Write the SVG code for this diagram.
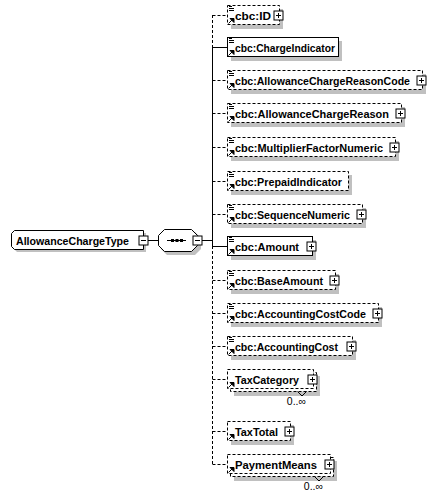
<svg xmlns="http://www.w3.org/2000/svg" width="438" height="498" viewBox="0 0 438 498">
<style>
.bg{fill:#fff}
.sh{fill:#c0c0c0;stroke:none}
.box{fill:#fff;stroke:#000;stroke-width:1}
.opt{fill:#fff;stroke:#000;stroke-width:1;stroke-dasharray:3,2}
.ln{stroke:#000;stroke-width:1;fill:none}
.dl{stroke:#000;stroke-width:1;fill:none;stroke-dasharray:3,2}
.t{font-family:"Liberation Sans",Arial,sans-serif;font-weight:bold;font-size:11.6px;fill:#000}
.card{font-family:"Liberation Sans",Arial,sans-serif;font-size:10.5px;fill:#000}
.btn{fill:#fff;stroke:#000;stroke-width:1}
.ic{stroke:#000;stroke-width:1;fill:none}
.ar{fill:#000;stroke:#000;stroke-width:1}
</style>
<defs>
<g id="plus"><rect class="btn" x="-4.5" y="-4.5" width="9" height="9"/><path class="ln" d="M-2.5,0H2.5M0,-2.5V2.5"/></g>
<g id="minus"><rect class="btn" x="-4.5" y="-4.5" width="9" height="9"/><path class="ln" d="M-2.5,0H2.5"/></g>
<g id="lines"><path class="ic" d="M229,1.5H232M229,3.5H234M229,5.5H234"/></g>
<g id="arrow"><path class="ar" d="M228.5,-1.5L232,-5"/><polygon class="ar" points="230,-6.5 234,-6.5 234,-2.5"/></g>
</defs>
<rect class="bg" x="0" y="0" width="438" height="498"/>

<g id="connectors">
<path class="ln" d="M148,240.5H158M202,240.5H212.5"/>
<path class="dl" d="M212.5,15V47"/>
<path class="ln" d="M212.5,47V246"/>
<path class="dl" d="M212.5,246V464"/>
<path class="dl" d="M212.5,15.5H227"/>
<path class="ln" d="M212.5,47.5H227"/>
<path class="dl" d="M212.5,80.5H227"/>
<path class="dl" d="M212.5,113.5H227"/>
<path class="dl" d="M212.5,147.5H227"/>
<path class="dl" d="M212.5,181.5H227"/>
<path class="dl" d="M212.5,214.5H227"/>
<path class="ln" d="M212.5,246.5H227"/>
<path class="dl" d="M212.5,280.5H227"/>
<path class="dl" d="M212.5,313.5H227"/>
<path class="dl" d="M212.5,346.5H227"/>
<path class="dl" d="M212.5,379.5H227"/>
<path class="dl" d="M212.5,431.5H227"/>
<path class="dl" d="M212.5,464.5H227"/>
</g>

<g id="AllowanceChargeType">
<path class="sh" d="M17,233H146V252H17L14,249V236Z"/>
<path class="box" d="M14.5,230.5H143.5V249.5H14.5L11.5,246.5V233.5Z"/>
<text class="t" x="16" y="244.5" textLength="113" lengthAdjust="spacingAndGlyphs">AllowanceChargeType</text>
<use href="#minus" x="143.5" y="240.5"/>
</g>

<g id="sequence">
<path class="sh" d="M167,232H195L201,238V249L195,255H167L161,249V238Z"/>
<path class="box" d="M164.5,229.5H191.5L197.5,235.5V245.5L191.5,251.5H164.5L158.5,245.5V235.5Z"/>
<path class="ln" d="M167,240.5H186"/>
<rect x="171" y="239" width="3" height="3" fill="#000"/>
<rect x="175.5" y="239" width="3" height="3" fill="#000"/>
<rect x="180" y="239" width="3" height="3" fill="#000"/>
<use href="#minus" x="197.5" y="240.5"/>
</g>

<g id="cbc-ID">
<rect class="sh" x="231" y="9" width="52" height="20"/>
<rect class="opt" x="227.5" y="5.5" width="52" height="19"/>
<use href="#lines" y="5"/><use href="#arrow" y="25"/>
<text class="t" x="235" y="19.5" textLength="36" lengthAdjust="spacingAndGlyphs">cbc:ID</text>
<use href="#plus" x="278.5" y="15.5"/>
</g>

<g id="cbc-ChargeIndicator">
<rect class="sh" x="231" y="41" width="111" height="20"/>
<rect class="box" x="227.5" y="37.5" width="111" height="19"/>
<use href="#lines" y="37"/><use href="#arrow" y="57"/>
<text class="t" x="235" y="51.5" textLength="100" lengthAdjust="spacingAndGlyphs">cbc:ChargeIndicator</text>
</g>

<g id="cbc-AllowanceChargeReasonCode">
<rect class="sh" x="231" y="74" width="195" height="20"/>
<rect class="opt" x="227.5" y="70.5" width="195" height="19"/>
<use href="#lines" y="70"/><use href="#arrow" y="90"/>
<text class="t" x="235" y="84.5" textLength="175" lengthAdjust="spacingAndGlyphs">cbc:AllowanceChargeReasonCode</text>
<use href="#plus" x="421.5" y="80.5"/>
</g>

<g id="cbc-AllowanceChargeReason">
<rect class="sh" x="231" y="107" width="174" height="20"/>
<rect class="opt" x="227.5" y="103.5" width="174" height="19"/>
<use href="#lines" y="103"/><use href="#arrow" y="123"/>
<text class="t" x="235" y="117.5" textLength="154" lengthAdjust="spacingAndGlyphs">cbc:AllowanceChargeReason</text>
<use href="#plus" x="400.5" y="113.5"/>
</g>

<g id="cbc-MultiplierFactorNumeric">
<rect class="sh" x="231" y="141" width="168" height="20"/>
<rect class="opt" x="227.5" y="137.5" width="168" height="19"/>
<use href="#lines" y="137"/><use href="#arrow" y="157"/>
<text class="t" x="235" y="151.5" textLength="148" lengthAdjust="spacingAndGlyphs">cbc:MultiplierFactorNumeric</text>
<use href="#plus" x="394.5" y="147.5"/>
</g>

<g id="cbc-PrepaidIndicator">
<rect class="sh" x="231" y="175" width="121" height="20"/>
<rect class="opt" x="227.5" y="171.5" width="121" height="19"/>
<use href="#lines" y="171"/><use href="#arrow" y="191"/>
<text class="t" x="235" y="185.5" textLength="107" lengthAdjust="spacingAndGlyphs">cbc:PrepaidIndicator</text>
</g>

<g id="cbc-SequenceNumeric">
<rect class="sh" x="231" y="208" width="135" height="20"/>
<rect class="opt" x="227.5" y="204.5" width="135" height="19"/>
<use href="#lines" y="204"/><use href="#arrow" y="224"/>
<text class="t" x="235" y="218.5" textLength="115" lengthAdjust="spacingAndGlyphs">cbc:SequenceNumeric</text>
<use href="#plus" x="361.5" y="214.5"/>
</g>

<g id="cbc-Amount">
<rect class="sh" x="231" y="240" width="85" height="20"/>
<rect class="box" x="227.5" y="236.5" width="85" height="19"/>
<use href="#lines" y="236"/><use href="#arrow" y="256"/>
<text class="t" x="235" y="250.5" textLength="64" lengthAdjust="spacingAndGlyphs">cbc:Amount</text>
<use href="#plus" x="311.5" y="246.5"/>
</g>

<g id="cbc-BaseAmount">
<rect class="sh" x="231" y="274" width="108" height="20"/>
<rect class="opt" x="227.5" y="270.5" width="108" height="19"/>
<use href="#lines" y="270"/><use href="#arrow" y="290"/>
<text class="t" x="235" y="284.5" textLength="88" lengthAdjust="spacingAndGlyphs">cbc:BaseAmount</text>
<use href="#plus" x="334.5" y="280.5"/>
</g>

<g id="cbc-AccountingCostCode">
<rect class="sh" x="231" y="307" width="151" height="20"/>
<rect class="opt" x="227.5" y="303.5" width="151" height="19"/>
<use href="#lines" y="303"/><use href="#arrow" y="323"/>
<text class="t" x="235" y="317.5" textLength="131" lengthAdjust="spacingAndGlyphs">cbc:AccountingCostCode</text>
<use href="#plus" x="377.5" y="313.5"/>
</g>

<g id="cbc-AccountingCost">
<rect class="sh" x="231" y="340" width="125" height="20"/>
<rect class="opt" x="227.5" y="336.5" width="125" height="19"/>
<use href="#lines" y="336"/><use href="#arrow" y="356"/>
<text class="t" x="235" y="350.5" textLength="103" lengthAdjust="spacingAndGlyphs">cbc:AccountingCost</text>
<use href="#plus" x="351.5" y="346.5"/>
</g>

<g id="TaxCategory">
<rect class="sh" x="234" y="376" width="86" height="20"/>
<rect class="opt" x="230.5" y="372.5" width="86" height="19"/>
<rect class="opt" x="227.5" y="369.5" width="86" height="19"/>
<use href="#arrow" y="389"/>
<text class="t" x="235" y="383.5" textLength="64" lengthAdjust="spacingAndGlyphs">TaxCategory</text>
<use href="#plus" x="312.5" y="379.5"/>
<path class="ln" d="M297.5,391.5L302,396L306.5,391.5"/>
<text class="card" x="306" y="405" text-anchor="end">0..∞</text>
</g>

<g id="TaxTotal">
<rect class="sh" x="231" y="425" width="63" height="20"/>
<rect class="opt" x="227.5" y="421.5" width="63" height="19"/>
<use href="#arrow" y="441"/>
<text class="t" x="235" y="435.5" textLength="43" lengthAdjust="spacingAndGlyphs">TaxTotal</text>
<use href="#plus" x="289.5" y="431.5"/>
</g>

<g id="PaymentMeans">
<rect class="sh" x="234" y="461" width="103" height="20"/>
<rect class="opt" x="230.5" y="457.5" width="103" height="19"/>
<rect class="opt" x="227.5" y="454.5" width="103" height="19"/>
<use href="#arrow" y="474"/>
<text class="t" x="235" y="468.5" textLength="82" lengthAdjust="spacingAndGlyphs">PaymentMeans</text>
<use href="#plus" x="329.5" y="464.5"/>
<path class="ln" d="M314.5,476.5L319,481L323.5,476.5"/>
<text class="card" x="323" y="490" text-anchor="end">0..∞</text>
</g>
</svg>
